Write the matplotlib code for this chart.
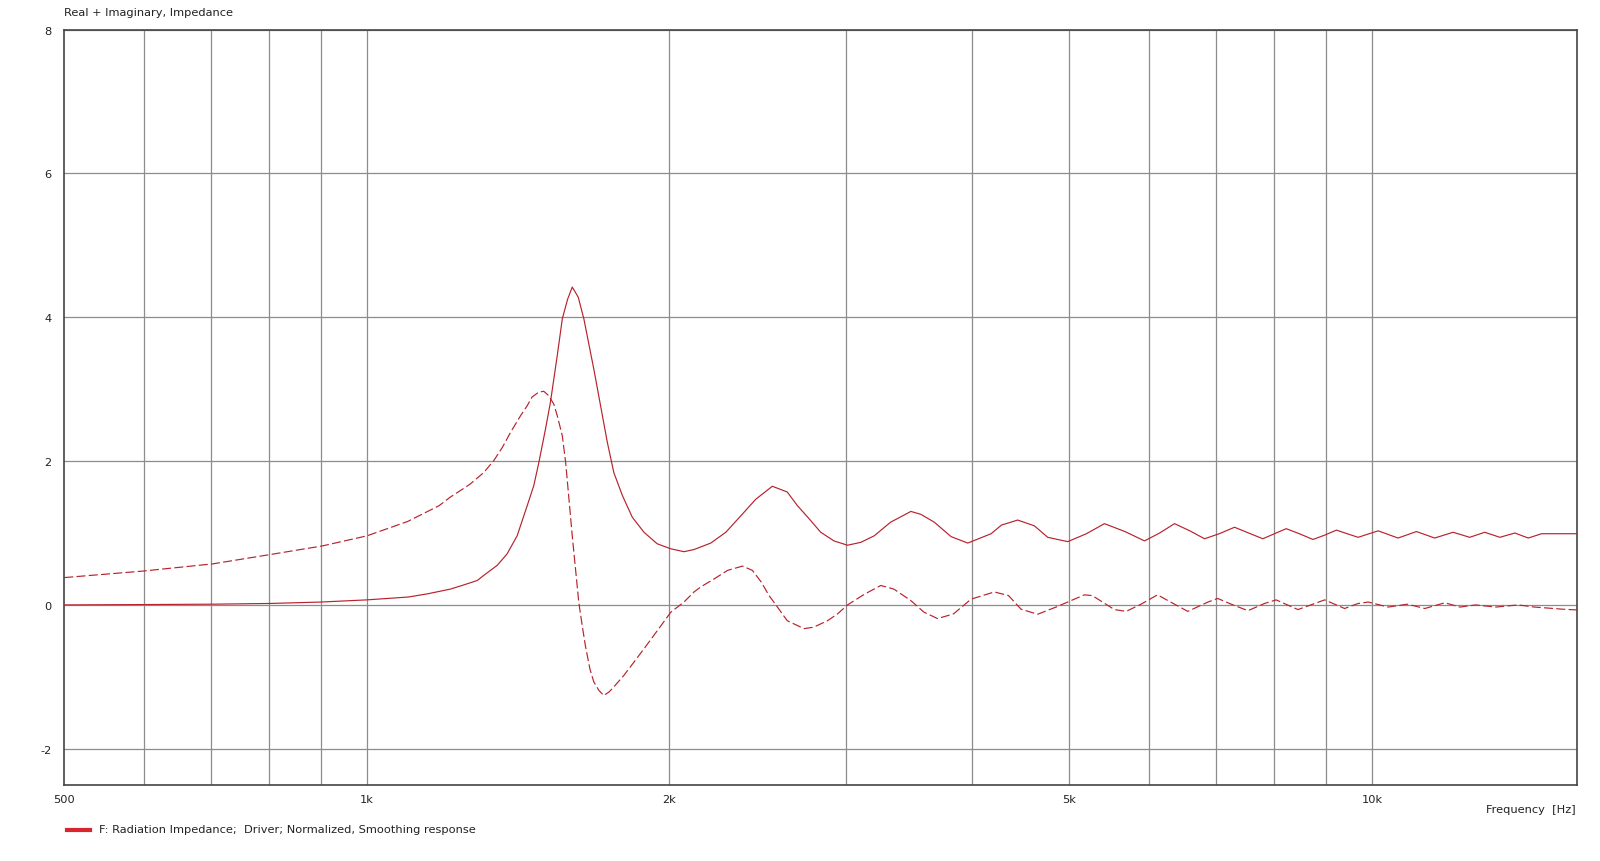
import matplotlib
matplotlib.use("Agg")
import matplotlib.pyplot as plt
from matplotlib.ticker import FixedLocator, NullLocator, NullFormatter

# ---- data ----
freq_real = [500, 600, 700, 800, 900, 1000, 1100, 1150, 1211, 1250, 1288, 1307, 1348, 1379, 1411,
             1444, 1466, 1483, 1506, 1523, 1547, 1565, 1584, 1601, 1623, 1644, 1682,
             1735, 1761, 1796, 1837, 1887, 1945, 2007, 2068, 2116, 2199, 2276, 2356,
             2438, 2532, 2620, 2682, 2754, 2829, 2916, 3008, 3101, 3197, 3320, 3478,
             3558, 3670, 3813, 3962, 4180, 4280, 4442, 4615, 4759, 4982, 5200, 5419,
             5680, 5940, 6150, 6363, 6590, 6816, 7050, 7301, 7540, 7790, 8000, 8218,
             8470, 8737, 8975, 9221, 9450, 9690, 9915, 10146, 10380, 10617, 10845,
             11075, 11310, 11546, 11795, 12044, 12280, 12512, 12730, 12950, 13180,
             13408, 13640, 13877, 14090, 14311, 14530, 14757, 15100, 16000]
real_vals = [0.0, 0.005, 0.01, 0.02, 0.04, 0.07, 0.11, 0.155, 0.22, 0.28, 0.34, 0.41, 0.55, 0.71, 0.96,
             1.38, 1.66, 1.98, 2.45, 2.82, 3.47, 3.98, 4.25, 4.42, 4.28, 3.98, 3.28,
             2.26, 1.84, 1.52, 1.22, 1.01, 0.85, 0.78, 0.74, 0.77, 0.86, 1.01, 1.24,
             1.47, 1.65, 1.57, 1.38, 1.20, 1.01, 0.89, 0.83, 0.87, 0.96, 1.15, 1.30,
             1.26, 1.15, 0.95, 0.86, 0.99, 1.11, 1.18, 1.10, 0.94, 0.88, 0.99, 1.13,
             1.02, 0.89, 1.00, 1.13, 1.03, 0.92, 0.99, 1.08, 1.00, 0.92, 0.99, 1.06,
             0.99, 0.91, 0.97, 1.04, 0.99, 0.94, 0.985, 1.03, 0.98, 0.93, 0.975,
             1.02, 0.975, 0.93, 0.97, 1.01, 0.975, 0.94, 0.975, 1.01, 0.975,
             0.94, 0.97, 1.00, 0.965, 0.93, 0.96, 0.99, 0.99, 0.99]

freq_imag = [500, 598, 702, 801, 903, 1000, 1098, 1180, 1211, 1239, 1267, 1307, 1338, 1364,
             1390, 1422, 1444, 1460, 1483, 1500, 1517, 1535, 1547, 1565, 1577, 1589,
             1601, 1613, 1625, 1638, 1650, 1667, 1682, 1702, 1721, 1742, 1761, 1802,
             1843, 1887, 1945, 2007, 2068, 2116, 2149, 2215, 2285, 2365, 2419, 2468,
             2513, 2562, 2620, 2723, 2783, 2873, 2940, 3008, 3128, 3246, 3345, 3478,
             3583, 3697, 3835, 3992, 4211, 4350, 4477, 4650, 4850, 5058, 5176, 5270,
             5544, 5695, 5893, 6119, 6363, 6560, 6870, 7025, 7245, 7528, 7820, 8031,
             8442, 8975, 9395, 9690, 9920, 10380, 10850, 11290, 11820, 12240, 12680,
             13280, 13980, 14520, 15500, 16000]
imag_vals = [0.38, 0.47, 0.57, 0.70, 0.82, 0.96, 1.16, 1.38, 1.50, 1.59, 1.68, 1.84, 2.01, 2.19,
             2.40, 2.63, 2.77, 2.89, 2.96, 2.97, 2.91, 2.79, 2.63, 2.35, 1.98, 1.47,
             0.96, 0.50, 0.04, -0.29, -0.57, -0.89, -1.07, -1.19, -1.26, -1.21, -1.14, -0.98,
             -0.80, -0.61, -0.36, -0.10, 0.04, 0.18, 0.25, 0.36, 0.48, 0.54, 0.48, 0.32,
             0.13, -0.03, -0.22, -0.33, -0.31, -0.22, -0.125, 0.0, 0.15, 0.27, 0.22, 0.06,
             -0.10, -0.19, -0.125, 0.08, 0.18, 0.13, -0.06, -0.13, -0.03, 0.08, 0.14, 0.13,
             -0.065, -0.09, 0.01, 0.14, 0.01, -0.09, 0.04, 0.09, 0.01, -0.08, 0.02, 0.07,
             -0.065, 0.07, -0.05, 0.02, 0.04, -0.03, 0.01, -0.05, 0.03, -0.03, 0.0,
             -0.03, 0.0, -0.03, -0.06, -0.07]

x_ticks = [500, 1000, 2000, 5000, 10000]
x_tick_labels = ["500", "1k", "2k", "5k", "10k"]
x_grid = [600, 700, 800, 900, 1000, 2000, 3000, 4000, 5000, 6000, 7000, 8000, 9000, 10000]
y_ticks = [-2, 0, 2, 4, 6, 8]

title = "Real + Imaginary, Impedance"
xlabel = "Frequency  [Hz]"
legend_text = "F: Radiation Impedance;  Driver; Normalized, Smoothing response"

# ---- figure ----
plt.rcParams['font.family'] = ['DejaVu Sans']
fig = plt.figure(figsize=(16, 8.62), dpi=100)
ax = fig.add_axes([64.3 / 1600, 1 - 785.7 / 862, (1577 - 64.3) / 1600, (785.7 - 30.6) / 862])

line_col = '#b8222c'
ax.plot(freq_real, real_vals, color=line_col, lw=0.85, zorder=3)
ax.plot(freq_imag, imag_vals, color=line_col, lw=0.85, dashes=(7.6, 2.8), zorder=3)

ax.set_xscale('log')
ax.set_xlim(500, 16000)
ax.set_ylim(-2.5, 8)

for xv in x_grid:
    ax.axvline(xv, color='#8c8c8c', lw=0.9, zorder=1)
for yv in y_ticks:
    ax.axhline(yv, color='#8c8c8c', lw=0.9, zorder=1)

ax.xaxis.set_major_locator(FixedLocator(x_ticks))
ax.set_xticklabels(x_tick_labels)
ax.xaxis.set_minor_locator(NullLocator())
ax.xaxis.set_minor_formatter(NullFormatter())
ax.set_yticks(y_ticks)
ax.set_yticklabels([str(v) for v in y_ticks])
ax.tick_params(axis='both', length=0, labelsize=8.2, colors='#222222')
ax.tick_params(axis='x', pad=7)
ax.tick_params(axis='y', pad=9)

for sp in ax.spines.values():
    sp.set_color('#444444')
    sp.set_linewidth(1.2)

fig.text(64 / 1600, 1 - 13 / 862, title, fontsize=8.2, color='#222222', va='center', ha='left')
fig.text(1576 / 1600, 1 - 810 / 862, xlabel, fontsize=8.2, color='#222222', va='center', ha='right')

fig.lines.append(plt.Line2D([67 / 1600, 90 / 1600], [1 - 831 / 862, 1 - 831 / 862],
                            transform=fig.transFigure, color='#d9262e', lw=3))
fig.text(99 / 1600, 1 - 830 / 862, legend_text, fontsize=8.2, color='#222222', va='center', ha='left')

fig.savefig('out.png', dpi=100, facecolor='white')
